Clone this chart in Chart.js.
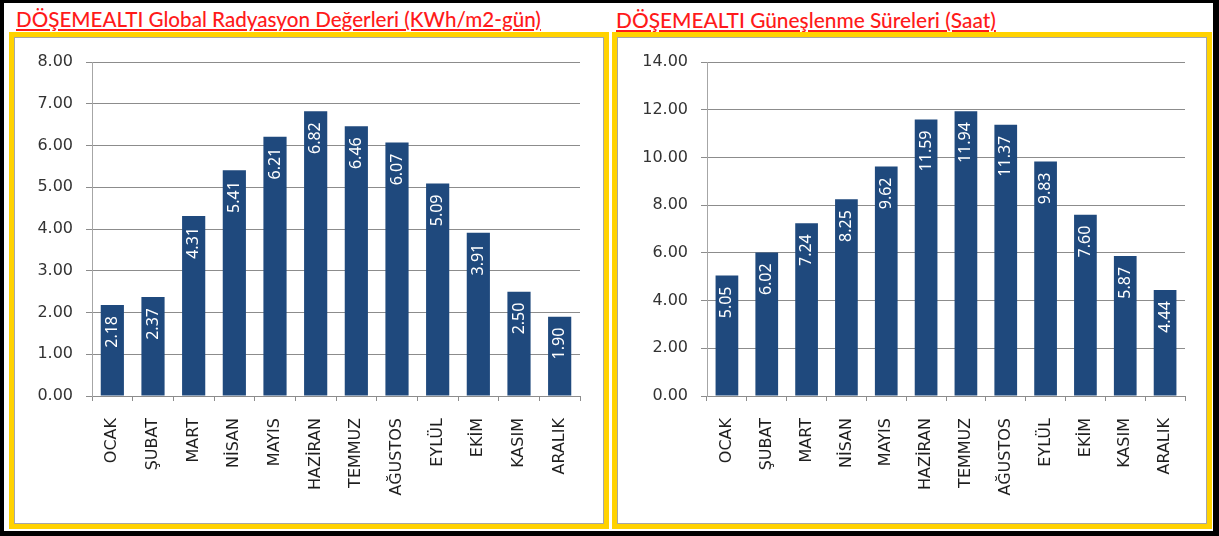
<!DOCTYPE html>
<html><head><meta charset="utf-8">
<script src="https://cdn.jsdelivr.net/npm/chart.js@4.4.1/dist/chart.umd.min.js"></script>
<style>
html,body{margin:0;padding:0;background:#fff;}
body{position:relative;width:1219px;height:536px;overflow:hidden;}
.blk{position:absolute;background:#000;}
.box{position:absolute;box-sizing:border-box;border:5px solid #FFD200;top:32px;height:497px;}
.inner{position:absolute;left:0;top:0;right:0;bottom:0;border:1px solid #A6A6A6;}
.title{position:absolute;top:7px;color:#FF1A1A;text-decoration:underline;text-decoration-thickness:1.5px;text-underline-offset:2px;font-family:'Lato',sans-serif;font-weight:500;white-space:nowrap;background:#fff;z-index:2;line-height:25px;font-size:20px;padding:0 1px;}
canvas{position:absolute;}
</style></head>
<body>
<div class="blk" style="left:0;top:0;width:1219px;height:3px"></div>
<div class="blk" style="left:0;top:0;width:4px;height:536px"></div>
<div class="blk" style="left:1213px;top:0;width:6px;height:536px"></div>
<div class="blk" style="left:0;top:531px;width:1219px;height:5px"></div>

<div class="box" style="left:9px;width:600px"><div class="inner"></div></div>
<div class="box" style="left:612px;width:600px"><div class="inner"></div></div>

<div class="title" id="t1" style="left:15px">DÖŞEMEALTI Global Radyasyon Değerleri (KWh/m2-gün)</div>
<div class="title" id="t2" style="left:615px">DÖŞEMEALTI Güneşlenme Süreleri (Saat)</div>

<canvas id="c1" width="586" height="482" style="left:16px;top:39px"></canvas>
<canvas id="c2" width="590" height="482" style="left:617px;top:39px"></canvas>

<script>
// ---- data ----
const months = ['OCAK','ŞUBAT','MART','NİSAN','MAYIS','HAZİRAN','TEMMUZ','AĞUSTOS','EYLÜL','EKİM','KASIM','ARALIK'];
const radiationValues = [2.18,2.37,4.31,5.41,6.21,6.82,6.46,6.07,5.09,3.91,2.50,1.90];
const sunshineValues = [5.05,6.02,7.24,8.25,9.62,11.59,11.94,11.37,9.83,7.60,5.87,4.44];
const radiationAxis = [0, 8, 1];   // min, max, step
const sunshineAxis = [0, 14, 2];   // min, max, step

// fit titles to reference width
function fit(id, w){
  const el=document.getElementById(id);
  const cur=el.getBoundingClientRect().width;
  const fs=parseFloat(getComputedStyle(el).fontSize);
  el.style.fontSize=(fs*w/cur).toFixed(2)+'px';
}
fit('t1',527); fit('t2',382);

const barLabels = {
  id:'barLabels',
  afterDatasetsDraw(chart){
    const ctx=chart.ctx;
    const meta=chart.getDatasetMeta(0);
    const data=chart.data.datasets[0].data;
    ctx.save();
    ctx.fillStyle='#ffffff';
    ctx.font='16px "Noto Sans"';
    ctx.textAlign='right';
    ctx.textBaseline='middle';
    meta.data.forEach((bar,i)=>{
      ctx.save();
      ctx.translate(bar.x, bar.y+11);
      ctx.rotate(-Math.PI/2);
      ctx.fillText(data[i].toFixed(2),0,0);
      ctx.restore();
    });
    ctx.restore();
  }
};

function makeChart(id, values, axis, yWidth){
  return new Chart(document.getElementById(id), {
    type:'bar',
    data:{labels:months, datasets:[{data:values, backgroundColor:'#1F497D', borderWidth:0, barPercentage:0.57, categoryPercentage:1}]},
    options:{
      responsive:false, animation:false, devicePixelRatio:1,
      layout:{padding:{top:23,right:22,left:0,bottom:0}},
      plugins:{legend:{display:false}, tooltip:{enabled:false}},
      scales:{
        x:{
          afterFit:s=>{s.height=125;},
          grid:{display:true, drawOnChartArea:false, drawTicks:true, tickLength:5, offset:true, color:'#8C8C8C'},
          border:{color:'#8C8C8C'},
          ticks:{autoSkip:false, maxRotation:90, minRotation:90, padding:17, color:'#1F1F1F', font:{family:'DejaVu Sans', size:16}}
        },
        y:{
          min:axis[0], max:axis[1],
          afterFit:s=>{s.width=yWidth;},
          grid:{color:'#8C8C8C', tickLength:6, drawTicks:true},
          border:{color:'#A6A6A6'},
          ticks:{stepSize:axis[2], padding:13, color:'#333333', font:{family:'DejaVu Sans', size:16}, callback:v=>v.toFixed(2)}
        }
      }
    },
    plugins:[barLabels]
  });
}
makeChart('c1', radiationValues, radiationAxis, 76);
makeChart('c2', sunshineValues, sunshineAxis, 90);
</script>
</body></html>
